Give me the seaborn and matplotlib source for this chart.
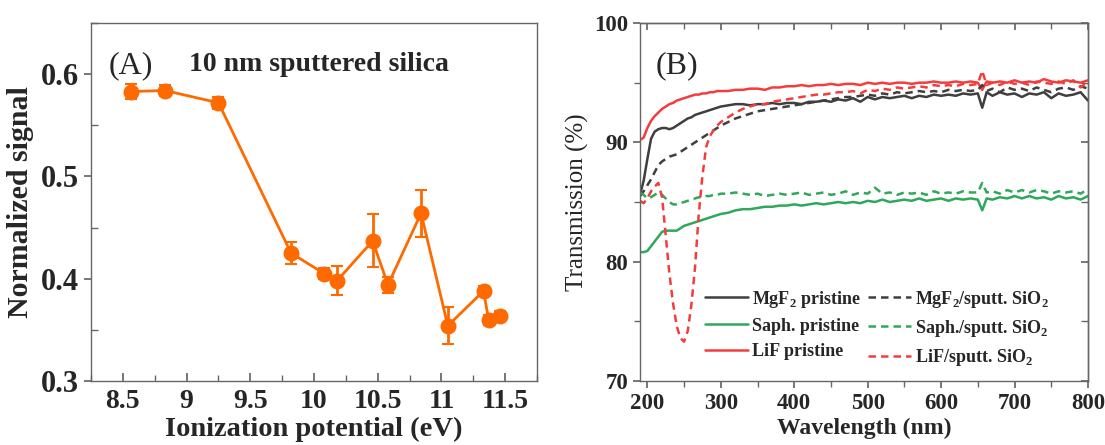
import matplotlib
matplotlib.use("Agg")
import matplotlib.pyplot as plt
import seaborn as sns
from matplotlib.ticker import MultipleLocator, FormatStrFormatter, FuncFormatter

# -------------------- DATA --------------------
# panel A: normalized signal vs ionization potential
ion_potential = [8.56, 8.83, 9.25, 9.82, 10.08, 10.18, 10.46, 10.58, 10.84, 11.05, 11.33, 11.37, 11.46]
norm_signal = [0.583, 0.584, 0.572, 0.425, 0.405, 0.398, 0.437, 0.394, 0.464, 0.354, 0.388, 0.360, 0.364]
signal_err = [0.007, 0.005, 0.006, 0.011, 0.005, 0.014, 0.026, 0.008, 0.023, 0.018, 0.005, 0.005, 0.004]

# panel B: transmission spectra
wavelength = ([190, 195, 200, 205, 210, 215, 220, 225, 230, 235, 240, 245, 250, 255, 260,
               265, 270, 275, 280, 285, 290, 295, 300]
              + list(range(310, 650, 10)) + [650, 656, 662] + list(range(670, 810, 10)))

mgf2_pristine = [85.6, 86.8, 88.6, 90.3, 90.9, 91.1, 91.2, 91.2, 91.1, 91.2, 91.4, 91.6, 91.8, 92.0, 92.1,
                 92.3, 92.4, 92.5, 92.6, 92.7, 92.8, 92.9, 93.0,
                 93.1, 93.2, 93.2, 93.1, 93.2, 93.2, 93.3, 93.2, 93.3, 93.3, 93.2, 93.4, 93.4, 93.5, 93.4,
                 93.6, 93.5, 93.7, 93.4, 93.8, 93.6, 93.8, 93.7, 93.8, 93.9, 93.7, 93.9, 93.8, 94.0, 93.9,
                 94.0, 93.9, 94.1, 94.0,
                 94.1, 92.9, 94.2,
                 93.9, 94.2, 94.0, 94.1, 93.8, 94.1, 94.0, 94.2, 93.7, 94.1, 93.9, 94.0, 94.2, 93.5]
mgf2_sputt = [85.5, 85.9, 86.4, 86.9, 87.5, 88.1, 88.4, 88.6, 88.8, 88.9, 89.0, 89.2, 89.4, 89.6, 89.8,
              90.0, 90.2, 90.4, 90.6, 90.8, 91.0, 91.2, 91.4,
              91.7, 92.0, 92.2, 92.4, 92.6, 92.7, 92.8, 92.9, 93.0, 93.1, 93.2, 93.3, 93.4, 93.5, 93.6,
              93.7, 93.8, 93.8, 93.9, 94.0, 93.9, 94.1, 94.0, 94.2, 94.1, 94.2, 94.3, 94.2, 94.3, 94.2,
              94.4, 94.3, 94.4, 94.3,
              94.4, 94.8, 94.3,
              94.5, 94.2, 94.6, 94.4, 94.5, 94.3, 94.6, 94.4, 94.2, 94.5, 94.6, 94.4, 94.7, 94.5]
saph_pristine = [80.8, 80.8, 80.9, 81.3, 81.7, 82.1, 82.5, 82.6, 82.6, 82.6, 82.6, 82.8, 83.0, 83.1, 83.2,
                 83.3, 83.4, 83.5, 83.6, 83.7, 83.8, 83.9, 84.0,
                 84.1, 84.3, 84.4, 84.4, 84.5, 84.6, 84.6, 84.7, 84.7, 84.8, 84.7, 84.8, 84.9, 84.8, 84.9,
                 85.0, 84.9, 85.0, 84.9, 85.1, 85.0, 85.2, 85.0, 85.1, 85.2, 85.1, 85.3, 85.1, 85.2, 85.3,
                 85.1, 85.3, 85.2, 85.3,
                 85.2, 84.3, 85.3,
                 85.2, 85.4, 85.3, 85.5, 85.3, 85.5, 85.3, 85.4, 85.2, 85.5, 85.3, 85.4, 85.2, 85.5]
saph_sputt = [85.8, 85.6, 85.3, 85.4, 85.6, 85.8, 85.6, 85.3, 85.0, 84.8, 84.8, 84.9, 85.0, 85.1, 85.2,
              85.3, 85.4, 85.4, 85.5, 85.5, 85.6, 85.6, 85.7,
              85.7, 85.8, 85.7, 85.6, 85.7, 85.5, 85.6, 85.7, 85.6, 85.7, 85.8, 85.6, 85.7, 85.8, 85.6,
              85.7, 85.9, 85.6, 85.8, 85.7, 86.2, 85.7, 85.8, 85.6, 85.8, 85.7, 85.8, 85.6, 85.9, 85.7,
              85.8, 85.7, 85.9, 85.8,
              85.8, 86.6, 85.8,
              85.9, 85.7, 86.0, 85.8, 86.0, 85.8, 86.0, 85.9, 85.7, 85.9, 85.8, 85.9, 85.7, 86.1]
lif_pristine = [90.2, 90.4, 91.2, 91.8, 92.2, 92.5, 92.8, 93.0, 93.2, 93.3, 93.5, 93.6, 93.7, 93.8, 93.9,
                94.0, 94.0, 94.1, 94.1, 94.2, 94.2, 94.3, 94.3,
                94.3, 94.4, 94.4, 94.5, 94.5, 94.4, 94.6, 94.6, 94.7, 94.7, 94.8, 94.7, 94.8, 94.8, 94.9,
                94.8, 94.9, 94.9, 94.8, 95.0, 94.9, 95.0, 94.9, 95.0, 95.0, 94.9, 95.0, 95.0, 95.1, 95.0,
                95.0, 95.1, 95.0, 95.1,
                95.0, 94.4, 95.1,
                95.0, 95.1, 95.0, 95.2, 95.0, 95.1, 95.0, 95.3, 95.1, 95.0, 95.2, 95.1, 95.0, 95.2]
lif_sputt = [85.1, 84.9, 85.3, 85.9, 86.3, 86.6, 85.4, 82.2, 79.0, 76.5, 74.6, 73.6, 73.3, 74.2, 76.4,
             79.6, 84.0, 87.2, 89.6, 90.5, 91.0, 91.4, 91.7,
             92.1, 92.5, 92.8, 93.0, 93.2, 93.2, 93.4, 93.5, 93.6, 93.7, 93.8, 93.9, 94.0, 94.0, 94.1,
             94.2, 94.2, 94.3, 94.1, 94.4, 94.3, 94.5, 94.4, 94.6, 94.5, 94.6, 94.7, 94.6, 94.8, 94.7,
             94.8, 94.7, 94.9, 94.8,
             94.9, 96.0, 94.8,
             95.0, 94.8, 95.1, 94.9, 95.0, 94.8, 95.1, 95.0, 94.9, 95.1, 94.9, 95.2, 94.6, 95.1]

series_labels = ["MgF$_\\mathbf{2}$ pristine", "Saph. pristine", "LiF pristine",
                 "MgF$_\\mathbf{2}$/sputt. SiO$_\\mathbf{2}$", "Saph./sputt. SiO$_\\mathbf{2}$",
                 "LiF/sputt. SiO$_\\mathbf{2}$"]

# -------------------- STYLE --------------------
sns.set_theme(style="ticks")
plt.rcParams["font.family"] = ["Liberation Serif", "DejaVu Serif"]
plt.rcParams["mathtext.fontset"] = "custom"
plt.rcParams["mathtext.rm"] = "Liberation Serif"
plt.rcParams["mathtext.bf"] = "Liberation Serif:bold"

ORANGE = "#ff6a00"
GREY = "#3f3f3f"
GREEN = "#2ea85a"
RED = "#f53c3c"
SPINE = "#666666"

fig = plt.figure(figsize=(11.05, 4.45), dpi=100)
axA = fig.add_axes([0.0824, 0.1438, 0.4036, 0.8045])
axB = fig.add_axes([0.5792, 0.1438, 0.4054, 0.8045])

# -------------------- PANEL A --------------------
sns.lineplot(x=ion_potential, y=norm_signal, ax=axA, color=ORANGE, linewidth=2,
             marker="o", markersize=11.5, markeredgewidth=0, sort=False)
axA.errorbar(ion_potential, norm_signal, yerr=signal_err, fmt="none", ecolor=ORANGE,
             elinewidth=2, capsize=4, capthick=1.5)
axA.set_xlim(8.25, 11.75)
axA.set_ylim(0.3, 0.65)
axA.xaxis.set_major_locator(MultipleLocator(0.5))
axA.xaxis.set_minor_locator(MultipleLocator(0.25))
axA.xaxis.set_major_formatter(FuncFormatter(lambda v, p: "%g" % v))
axA.yaxis.set_major_locator(MultipleLocator(0.1))
axA.yaxis.set_minor_locator(MultipleLocator(0.05))
axA.yaxis.set_major_formatter(FormatStrFormatter("%.1f"))
axA.tick_params(axis="x", which="both", direction="in", labelsize=20, pad=6, color=SPINE)
axA.tick_params(axis="x", which="major", length=6)
axA.tick_params(axis="x", which="minor", length=4)
axA.tick_params(axis="y", which="major", direction="out", length=5, labelsize=22, color=SPINE)
axA.tick_params(axis="y", which="minor", direction="in", length=5, color=SPINE)
for lbl in axA.get_xticklabels() + axA.get_yticklabels():
    lbl.set_fontweight("bold")
axA.set_xlabel("Ionization potential (eV)", fontsize=20.5, fontweight="bold", labelpad=2)
axA.set_ylabel("Normalized signal", fontsize=21.5, fontweight="bold", labelpad=5)
axA.text(0.04, 0.88, "(A)", transform=axA.transAxes, fontsize=23, va="center")
axA.text(0.22, 0.885, "10 nm sputtered silica", transform=axA.transAxes, fontsize=20,
         fontweight="bold", va="center")
for s in axA.spines.values():
    s.set_color(SPINE)
    s.set_linewidth(1)

# -------------------- PANEL B --------------------
curves = [mgf2_pristine, saph_pristine, lif_pristine, mgf2_sputt, saph_sputt, lif_sputt]
colors = [GREY, GREEN, RED, GREY, GREEN, RED]
for i, (vals, c, lab) in enumerate(zip(curves, colors, series_labels)):
    sns.lineplot(x=wavelength, y=vals, ax=axB, color=c, linewidth=1.8, label=lab, sort=False)
    if i >= 3:
        axB.lines[-1].set_dashes((3, 2))

axB.set_xlim(190, 800)
axB.set_ylim(70, 100)
axB.xaxis.set_major_locator(MultipleLocator(100))
axB.xaxis.set_minor_locator(MultipleLocator(50))
axB.yaxis.set_major_locator(MultipleLocator(10))
axB.yaxis.set_minor_locator(MultipleLocator(5))
axB.tick_params(axis="both", which="both", direction="out", color=SPINE)
axB.tick_params(axis="both", which="major", length=5, labelsize=16.5)
axB.tick_params(axis="both", which="minor", length=4)
for lbl in axB.get_xticklabels() + axB.get_yticklabels():
    lbl.set_fontweight("bold")
secx = axB.secondary_xaxis("top")
secx.xaxis.set_major_locator(MultipleLocator(100))
secx.xaxis.set_minor_locator(MultipleLocator(50))
secx.tick_params(which="both", direction="in", labeltop=False, color=SPINE)
secx.tick_params(which="major", length=5)
secx.tick_params(which="minor", length=4)
secy = axB.secondary_yaxis("right")
secy.yaxis.set_major_locator(MultipleLocator(10))
secy.yaxis.set_minor_locator(MultipleLocator(5))
secy.tick_params(which="both", direction="in", labelright=False, length=5, color=SPINE)
axB.set_xlabel("Wavelength (nm)", fontsize=17, fontweight="bold", labelpad=3)
axB.set_ylabel("Transmission (%)", fontsize=18, labelpad=4)
axB.text(0.035, 0.88, "(B)", transform=axB.transAxes, fontsize=23, va="center")
for s in list(axB.spines.values()) + [secx.spines["top"], secy.spines["right"]]:
    s.set_color(SPINE)
    s.set_linewidth(1)

leg = axB.legend(ncol=2, loc="upper left", bbox_to_anchor=(0.145, 0.258), frameon=False,
                 prop={"size": 13, "weight": "bold"}, handlelength=2.4, handletextpad=0.2,
                 columnspacing=0.4, labelspacing=0.45, borderpad=0, borderaxespad=0)

fig.savefig("out.png", dpi=100)
